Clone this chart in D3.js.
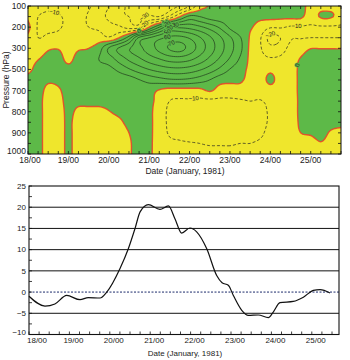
<!DOCTYPE html>
<html><head><meta charset="utf-8">
<script src="https://cdn.jsdelivr.net/npm/d3@7"></script>
<style>
body{margin:0;background:#fff}
text{font-family:"Liberation Sans",Arial,sans-serif;fill:#222}
</style>
</head><body>
<svg id="c" width="350" height="360"></svg>
<script>
// ---------------- data ----------------
const pressureLevels = [100,200,300,500,700,800,900,1000];
const dayLabels = ["18/00","19/00","20/00","21/00","22/00","23/00","24/00","25/00"];
const dayHours = [0,24,48,72,96,120,144,168];
// field sampled every 6 h (columns) at these pressures (rows)
const fieldHours = [0,6,12,18,24,30,36,42,48,54,60,66,72,78,84,90,96,102,108,114,120,126,132,138,144,150,156,162,168,174,180,186];
const profilePressure = [100,150,200,250,300,400,500,600,700,750,800,850,900,950,1000];
const profiles = [
 [-6,-2,2,-2,-5,-4,-2,3,4,4,4,4,4,4,4],
 [-6,-10,-11,-10,-6,-0.5,3,3,3,3,3,3,3,3,3],
 [-8,-12,-12,-8,-1.2,3,3,1,-2,-4,-4,-4,-4,-4,-4],
 [-7,-11,-11,-7,-0.5,3,3,1.5,-1,-3,-4,-4,-4,-4,-4],
 [-6,-8,-8,-6,-4,-2,2,3,3,3,2,1.5,1.5,1.5,1.5],
 [-5,-7,-8,-6,-1,3,3,3,3,2,-2,-4,-4,-4,-4],
 [-9,-11,-10,-6,0,4,4,3,3,2,-2,-4,-4,-4,-4],
 [-14,-16,-12,-5,5,10,6,4,3,2,-2,-4,-4,-4,-4],
 [-20,-22,-16,-9,21,15,7,3.5,3,2,-0.3,-3,-4,-4,-4],
 [-26,-28,-18,-0.5,31,24,12.5,4,3,3,1.5,-1.5,-4,-4,-4],
 [-32,-30,-24,15,39,32,19,5,3,3,3,2,0,-1,-1],
 [-34,-32,-24,42,47,38.5,25,9.5,4,3,3,3,3,3,3],
 [-36,-28,0,50,55,45,30.1,13.5,4,2,1.5,1.5,1.5,1.5,1.5],
 [-38,-30,20,57,63,50,34,16,-1,-3,-4,-4,-4,-4,-4],
 [-35,-18,37.5,62,71,54.5,36.6,18.3,-4,-10,-12,-12,-11,-8,-6],
 [-30,-1,38.2,63,74,55.6,37.3,18.8,-4,-11,-13,-13,-12,-9,-6],
 [-20,12.5,36.4,58.9,66.2,52.6,35.5,17.5,-4,-11,-14,-14,-13,-9.5,-6],
 [-4,10,32.1,51,55.8,46.2,31.3,14.4,-3,-12,-15,-15,-13,-10,-6],
 [0.5,5.4,26,41.8,45.3,38,25.3,9.8,1,-12,-15,-16,-14,-11,-6],
 [3,4,18.5,31.8,34.5,28.7,17.8,3.9,-4,-12,-15,-16,-14,-11,-6],
 [3,4,8,21.5,23.7,19,9.6,2,-4,-12,-14,-14,-13,-11,-6],
 [3,3,1.2,11,12.9,8.9,4,1.5,-4,-11,-13,-13,-12,-10,-6],
 [3,3,1,-1,-2,-2,-2,-3,-6,-10,-12,-12,-11,-10,-6],
 [3,2,-4,-9,-9,-7,-4,-4,-6,-10.5,-12,-12,-11,-9,-6],
 [3,2.5,-9,-23,-17,-9,-2,2,-4,-8,-9,-9,-8,-7,-5],
 [3,2,-9,-20,-15,-8,-4,-4,-4,-6,-7,-7,-6,-5,-4],
 [3,2,-11,-11,-7,-4,-4,-4,-4,-5,-5,-5,-4,-4,-4],
 [3,2,-11,-10.5,-4,0.5,2,2,2,2,2,1.5,0,-3,-4],
 [-3,-5,-11,-10,-0.3,4,5,5,5,5,5,4,1,-3,-4],
 [-3,1,-11,-10,-0.3,4,5,5,5,5,5,5,3,-0.5,-3],
 [-3,1,-11,-10,-0.3,4,5,5,5,5,4,3,-1,-3,-4],
 [-3,-4,-11,-10,-0.3,3,4,4,4,4,3,2,-2,-3,-4]
];
const contourLevels = [-40,-30,-20,-10,0,10,20,30,40,50,60,70,80];

// bottom series
const curveHours = [0,9.5,15.4,22.4,30.3,35.2,42.2,46.2,54,59,63,66,70.9,77.8,82.8,86.7,90.7,95.6,99.6,105.6,111.5,114.7,118.4,121.4,126.4,130.3,136.2,142.2,145.1,149.1,157,163,168.9,172.9,178.8];
const curveValues = [-1.0,-3.3,-2.8,-0.8,-1.8,-1.3,-1.4,0,5.5,10.2,15,18.9,20.6,19.5,20.3,17.3,13.9,15.1,14.2,10.2,3.9,2.2,1.6,-0.8,-4.3,-5.5,-5.4,-6.0,-4.7,-2.5,-2.2,-1.2,0.4,0.6,-0.2];
const yTicksBottom = [-10,-5,0,5,10,15,20,25];
const gridValues = [-5,5,10,15,20];

// ---------------- colours ----------------
const YELLOW = "#efe62c", GREEN = "#5db948", RED = "#e8462a";

const svg = d3.select("#c");

// ================= TOP PANEL =================
const xTop = d3.scaleLinear().domain([0,186]).range([28,341]);
const yTop = d3.scaleLinear().domain(pressureLevels).range(pressureLevels.map((_,i)=>6+i*148/7));
const [tx0,tx1] = xTop.range(), ty0 = 6, ty1 = 154;

svg.append("clipPath").attr("id","clipTop").append("rect")
  .attr("x",tx0).attr("y",ty0).attr("width",tx1-tx0).attr("height",ty1-ty0);

const topG = svg.append("g").attr("clip-path","url(#clipTop)");
topG.append("rect").attr("x",tx0).attr("y",ty0).attr("width",tx1-tx0).attr("height",ty1-ty0).attr("fill",YELLOW);

// upsample with Catmull-Rom for smooth contours
const F = 5;
const nc = profiles.length, nr = profilePressure.length;
const nx = (nc-1)*F+1, ny = (nr-1)*F+1;
function cr(p0,p1,p2,p3,t){const t2=t*t,t3=t2*t;return 0.5*((2*p1)+(-p0+p2)*t+(2*p0-5*p1+4*p2-p3)*t2+(-p0+3*p1-3*p2+p3)*t3);}
const clampI=(q,n)=>Math.max(0,Math.min(n-1,q));
const colFine = profiles.map(p=>{
  const out=[];
  for(let j=0;j<ny;j++){const s=j/F,k=Math.min(Math.floor(s),nr-2),t=s-k;const g=q=>p[clampI(q,nr)];out.push(cr(g(k-1),g(k),g(k+1),g(k+2),t));}
  return out;
});
const fine = new Float64Array(nx*ny);
for(let j=0;j<ny;j++)for(let i=0;i<nx;i++){
  const s=i/F,k=Math.min(Math.floor(s),nc-2),t=s-k;const g=q=>colFine[clampI(q,nc)][j];
  fine[j*nx+i]=cr(g(k-1),g(k),g(k+1),g(k+2),t);
}
const colToHour = d3.scaleLinear().domain(fieldHours.map((_,k)=>k*F)).range(fieldHours);
const rowToP = d3.scaleLinear().domain(profilePressure.map((_,k)=>k*F)).range(profilePressure);
const P = (x,y)=>[xTop(colToHour(x-0.5)), yTop(rowToP(y-0.5))];
const proj = d3.geoTransform({point(x,y){const p=P(x,y);this.stream.point(p[0],p[1]);}});
const path = d3.geoPath(proj);
const contours = d3.contours().size([nx,ny]).thresholds(contourLevels)(Array.from(fine));

const zero = contours.find(c=>c.value===0);
topG.append("path").attr("d",path(zero)).attr("fill",GREEN);
contours.filter(c=>c.value!==0).forEach(c=>{
  topG.append("path").attr("d",path(c)).attr("fill","none")
    .attr("stroke", c.value>0?"#1f3a1c":"#222").attr("stroke-width",0.7)
    .attr("stroke-dasharray", c.value<0?"3,2":null);
});
topG.append("path").attr("d",path(zero)).attr("fill","none").attr("stroke",RED).attr("stroke-width",1.4).attr("opacity",0.9);

// contour labels
const lab = topG.append("g");
contours.forEach(c=>{
  c.coordinates.forEach(poly=>poly.forEach(ring=>{
    const pts = ring.map(p=>P(p[0],p[1])).filter(p=>p[0]>tx0+6&&p[0]<tx1-6&&p[1]>ty0+5&&p[1]<ty1-5);
    if(pts.length<(c.value===0?40:22)) return;
    const m = Math.floor(pts.length*0.45), a=pts[Math.max(0,m-3)], b=pts[Math.min(pts.length-1,m+3)];
    let ang = Math.atan2(b[1]-a[1],b[0]-a[0])*180/Math.PI; if(ang>90)ang-=180; if(ang<-90)ang+=180;
    lab.append("text").attr("transform",`translate(${pts[m][0]},${pts[m][1]}) rotate(${ang})`)
      .attr("text-anchor","middle").attr("dy","0.33em").attr("font-size",6)
      .attr("stroke", c.value<0?YELLOW:GREEN).attr("stroke-width",2).attr("paint-order","stroke")
      .text(c.value===0?"0":d3.format("d")(c.value));
  }));
});

// frame & ticks
const topAx = svg.append("g");
topAx.append("rect").attr("x",tx0).attr("y",ty0).attr("width",tx1-tx0).attr("height",ty1-ty0).attr("fill","none").attr("stroke","#111").attr("stroke-width",1);
fieldHours.forEach(h=>{
  topAx.append("line").attr("x1",xTop(h)).attr("x2",xTop(h)).attr("y1",ty1).attr("y2",ty1-3).attr("stroke","#111").attr("stroke-width",0.8);
  topAx.append("line").attr("x1",xTop(h)).attr("x2",xTop(h)).attr("y1",ty0).attr("y2",ty0+3).attr("stroke","#111").attr("stroke-width",0.8);
});
profilePressure.forEach(p=>{
  topAx.append("line").attr("x1",tx0).attr("x2",tx0+3).attr("y1",yTop(p)).attr("y2",yTop(p)).attr("stroke","#111").attr("stroke-width",0.8);
  topAx.append("line").attr("x1",tx1).attr("x2",tx1-3).attr("y1",yTop(p)).attr("y2",yTop(p)).attr("stroke","#111").attr("stroke-width",0.8);
});
pressureLevels.forEach((p,i)=>{
  topAx.append("text").attr("x",tx0-2).attr("y",yTop(p)).attr("dy",i===pressureLevels.length-1?"0.05em":"0.35em").attr("text-anchor","end").attr("font-size",8.5).text(p);
});
dayHours.forEach((h,i)=>{
  topAx.append("text").attr("x",xTop(h)+(i===0?2:0)).attr("y",ty1+9).attr("text-anchor","middle").attr("font-size",8.5).text(dayLabels[i]);
});
topAx.append("text").attr("x",185).attr("y",ty1+19.5).attr("text-anchor","middle").attr("font-size",8.5).text("Date (January, 1981)");
topAx.append("text").attr("transform",`translate(9,${(ty0+ty1)/2}) rotate(-90)`).attr("text-anchor","middle").attr("font-size",8.5).text("Pressure (hPa)");

// ================= BOTTOM PANEL =================
const xBot = d3.scaleLinear().domain([0,186]).range([29,29+186*40.4/24]);
const yBot = d3.scaleLinear().domain([-10,25]).range([334.5,186]);
const bx0=29,bx1=339,by0=yBot(25),by1=yBot(-10);
const bot = svg.append("g");
gridValues.forEach(v=>{
  bot.append("line").attr("x1",bx0).attr("x2",bx1).attr("y1",yBot(v)).attr("y2",yBot(v)).attr("stroke","#111").attr("stroke-width",1);
});
bot.append("line").attr("x1",bx0).attr("x2",bx1).attr("y1",yBot(0)).attr("y2",yBot(0)).attr("stroke","#1b2a6b").attr("stroke-width",1).attr("stroke-dasharray","2,1.5");
bot.append("rect").attr("x",bx0).attr("y",by0).attr("width",bx1-bx0).attr("height",by1-by0).attr("fill","none").attr("stroke","#111").attr("stroke-width",1.1);
fieldHours.filter(h=>xBot(h)<bx1).forEach(h=>{
  bot.append("line").attr("x1",xBot(h)).attr("x2",xBot(h)).attr("y1",by1).attr("y2",by1-3).attr("stroke","#111").attr("stroke-width",0.8);
});
d3.range(-10,25.1,2.5).forEach(v=>{
  bot.append("line").attr("x1",bx0).attr("x2",bx0+3).attr("y1",yBot(v)).attr("y2",yBot(v)).attr("stroke","#111").attr("stroke-width",0.8);
});
const line = d3.line().x((d,i)=>xBot(curveHours[i])).y(d=>yBot(d)).curve(d3.curveMonotoneX);
bot.append("path").attr("d",line(curveValues)).attr("fill","none").attr("stroke","#111").attr("stroke-width",1.2);
yTicksBottom.forEach(v=>{
  bot.append("text").attr("x",bx0-3).attr("y",yBot(v)).attr("dy",v===-10?"0.1em":"0.35em").attr("text-anchor","end").attr("font-size",8).text(d3.format("d")(v));
});
dayHours.forEach((h,i)=>{
  bot.append("text").attr("x",xBot(h)+(i===0?8:4)).attr("y",by1+8).attr("text-anchor","middle").attr("font-size",8).text(dayLabels[i]);
});
bot.append("text").attr("x",185).attr("y",by1+21).attr("text-anchor","middle").attr("font-size",8).text("Date (January, 1981)");
</script>
</body></html>
